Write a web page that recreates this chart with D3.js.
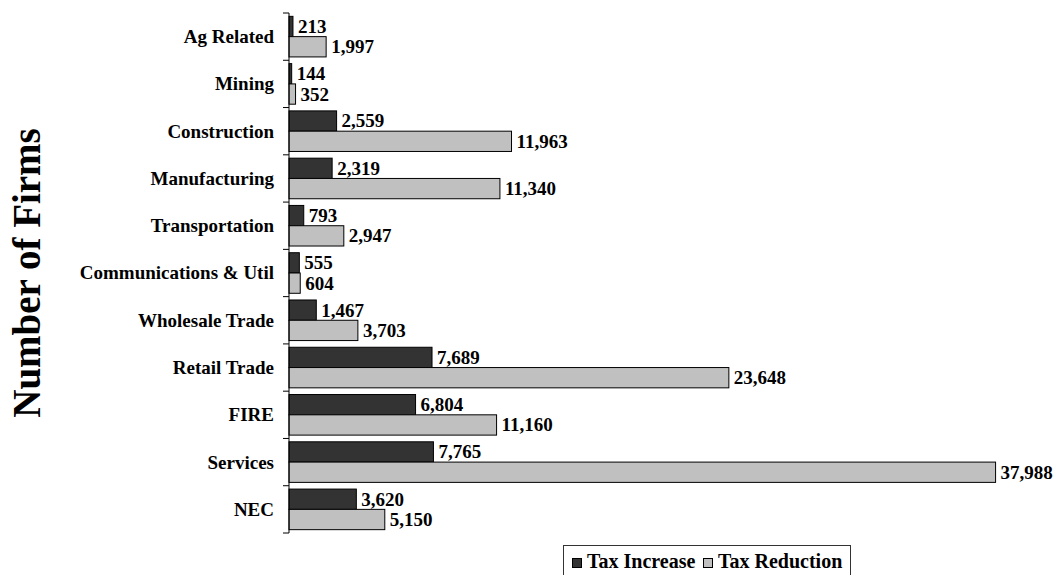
<!DOCTYPE html>
<html>
<head>
<meta charset="utf-8">
<script src="https://cdn.jsdelivr.net/npm/d3@7/dist/d3.min.js"></script>
<style>
  html, body { margin: 0; padding: 0; background: #fff; }
  svg { display: block; }
  text { font-family: "Liberation Serif", "Times New Roman", serif; font-weight: bold; fill: #000; }
</style>
</head>
<body>
<svg id="chart" width="1055" height="575"></svg>
<script>
// Number of firms by industry: tax increase vs tax reduction
const categories = ["Ag Related", "Mining", "Construction", "Manufacturing", "Transportation",
  "Communications & Util", "Wholesale Trade", "Retail Trade", "FIRE", "Services", "NEC"];
const taxIncrease  = [213, 144, 2559, 2319, 793, 555, 1467, 7689, 6804, 7765, 3620];
const taxReduction = [1997, 352, 11963, 11340, 2947, 604, 3703, 23648, 11160, 37988, 5150];
const seriesNames  = ["Tax Increase", "Tax Reduction"];
const seriesColors = ["#333333", "#c0c0c0"];

const svg = d3.select("#chart");
const fmt = d3.format(",");
const fontSize = 19;
const legendFontSize = 20;

const x = d3.scaleLinear().domain([0, 40000]).range([289, 1033]);
const y = d3.scaleBand().domain(categories).range([13, 533]).paddingInner(0).paddingOuter(0);
const ySub = d3.scaleBand().domain(seriesNames).range([0, y.bandwidth()])
  .paddingInner(0).paddingOuter(0.165);

const rows = categories.map((c, i) => ({
  category: c,
  values: [
    { series: seriesNames[0], value: taxIncrease[i], color: seriesColors[0] },
    { series: seriesNames[1], value: taxReduction[i], color: seriesColors[1] }
  ]
}));

// Bars
const groups = svg.append("g").selectAll("g").data(rows).join("g")
  .attr("transform", d => `translate(0,${y(d.category)})`);

groups.selectAll("rect").data(d => d.values).join("rect")
  .attr("x", x(0))
  .attr("y", d => ySub(d.series))
  .attr("width", d => x(d.value) - x(0))
  .attr("height", ySub.bandwidth())
  .attr("fill", d => d.color)
  .attr("stroke", "#000")
  .attr("stroke-width", 1);

// Value labels
groups.selectAll("text").data(d => d.values).join("text")
  .attr("x", d => x(d.value) + 5)
  .attr("y", d => ySub(d.series) + ySub.bandwidth() / 2 + fontSize * 0.34)
  .attr("font-size", fontSize)
  .text(d => fmt(d.value));

// Category axis with ticks at band boundaries
const axisG = svg.append("g");
axisG.append("line")
  .attr("x1", x(0)).attr("x2", x(0))
  .attr("y1", y.range()[0]).attr("y2", y.range()[1])
  .attr("stroke", "#000").attr("stroke-width", 1);
const boundaries = categories.map(c => y(c)).concat([y.range()[1]]);
axisG.selectAll("line.tick").data(boundaries).join("line")
  .attr("class", "tick")
  .attr("x1", x(0) - 6).attr("x2", x(0))
  .attr("y1", d => d).attr("y2", d => d)
  .attr("stroke", "#000").attr("stroke-width", 1);
axisG.selectAll("text").data(categories).join("text")
  .attr("x", x(0) - 15)
  .attr("y", d => y(d) + y.bandwidth() / 2 + fontSize * 0.34)
  .attr("text-anchor", "end")
  .attr("font-size", fontSize)
  .text(d => d);

// Axis title
svg.append("text")
  .attr("transform", "translate(40,273) rotate(-90)")
  .attr("text-anchor", "middle")
  .attr("font-size", 39)
  .text("Number of Firms");

// Legend
const legend = svg.append("g");
legend.append("rect")
  .attr("x", 563.5).attr("y", 545.5)
  .attr("width", 287).attr("height", 40)
  .attr("fill", "#fff").attr("stroke", "#333").attr("stroke-width", 1);
const legendX = [572, 703];
seriesNames.forEach((name, i) => {
  legend.append("rect")
    .attr("x", legendX[i] + 0.5).attr("y", 558.5)
    .attr("width", 9).attr("height", 9)
    .attr("fill", seriesColors[i]).attr("stroke", "#000");
  legend.append("text")
    .attr("x", legendX[i] + 15)
    .attr("y", 568)
    .attr("font-size", legendFontSize)
    .text(name);
});
</script>
</body>
</html>
